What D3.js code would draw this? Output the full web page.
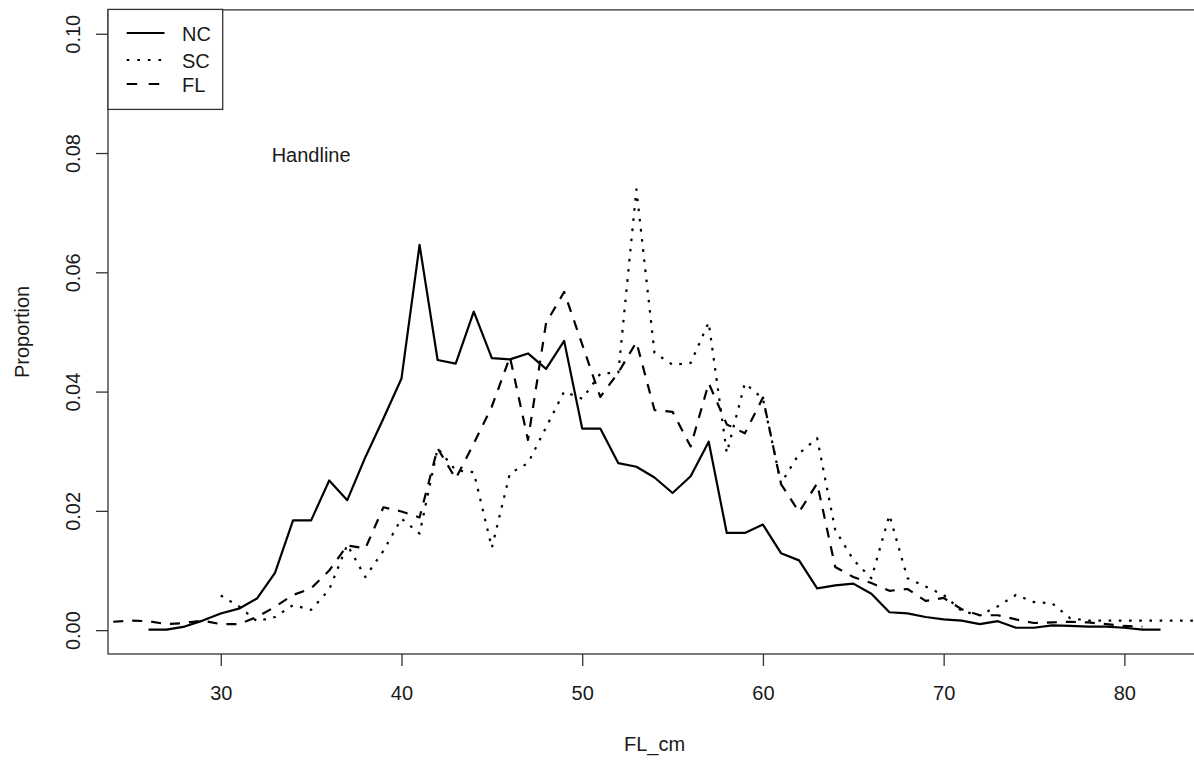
<!DOCTYPE html>
<html>
<head>
<meta charset="utf-8">
<script src="https://cdn.jsdelivr.net/npm/d3@7"></script>
<style>
  html, body { margin: 0; padding: 0; background: #fff; }
  svg { display: block; }
  text { font-family: "Liberation Sans", Arial, sans-serif; fill: #1a1a1a; }
</style>
</head>
<body>
<svg id="chart" width="1194" height="760"></svg>
<script>
// Fork length bins (cm)
const fl_cm = d3.range(23, 87);

// Proportions by bin (null = no data)
const NC = [
  null, null, null,                                   // 23-25
  0.0001, 0.0001, 0.0006, 0.0016,                     // 26-29
  0.0028, 0.0036, 0.0053, 0.0096, 0.0184, 0.0184, 0.0251, 0.0218, 0.0290, 0.0355, // 30-39
  0.0422, 0.0646, 0.0453, 0.0447, 0.0534, 0.0456, 0.0454, 0.0464, 0.0438, 0.0485, // 40-49
  0.0338, 0.0338, 0.0280, 0.0274, 0.0256, 0.0230, 0.0258, 0.0316, 0.0163, 0.0163, // 50-59
  0.0177, 0.0129, 0.0117, 0.0070, 0.0075, 0.0078, 0.0061, 0.0030, 0.0028, 0.0022, // 60-69
  0.0018, 0.0016, 0.0010, 0.0015, 0.0004, 0.0004, 0.0008, 0.0007, 0.0006, 0.0006, // 70-79
  0.0004, 0.0001, 0.0001,                             // 80-82
  null, null, null, null                              // 83-86
];
const SC = [
  null, null, null, null, null, null, null,           // 23-29
  0.0058, 0.0040, 0.0015, 0.0022, 0.0042, 0.0034, 0.0068, 0.0143, 0.0089, 0.0133, // 30-39
  0.0187, 0.0162, 0.0305, 0.0268, 0.0265, 0.0138, 0.0263, 0.0280, 0.0340, 0.0400, // 40-49
  0.0388, 0.0430, 0.0432, 0.0739, 0.0465, 0.0445, 0.0448, 0.0516, 0.0297, 0.0414, // 50-59
  0.0388, 0.0246, 0.0296, 0.0322, 0.0168, 0.0118, 0.0087, 0.0193, 0.0087, 0.0073, // 60-69
  0.0059, 0.0032, 0.0025, 0.0040, 0.0059, 0.0047, 0.0045, 0.0020, 0.0016, 0.0016, // 70-79
  0.0016, 0.0016, 0.0016, 0.0016, 0.0016, 0.0016, 0.0016 // 80-86
];
const FL = [
  0.0014, 0.0014, 0.0016,                             // 23-25
  0.0015, 0.0010, 0.0012, 0.0016,                     // 26-29
  0.0010, 0.0010, 0.0022, 0.0039, 0.0059, 0.0070, 0.0100, 0.0142, 0.0137, 0.0206, // 30-39
  0.0199, 0.0189, 0.0305, 0.0254, 0.0313, 0.0375, 0.0458, 0.0319, 0.0515, 0.0567, // 40-49
  0.0479, 0.0391, 0.0432, 0.0483, 0.0369, 0.0366, 0.0308, 0.0414, 0.0345, 0.0330, // 50-59
  0.0390, 0.0245, 0.0198, 0.0246, 0.0106, 0.0089, 0.0079, 0.0066, 0.0069, 0.0049, // 60-69
  0.0054, 0.0035, 0.0025, 0.0025, 0.0018, 0.0012, 0.0013, 0.0014, 0.0013, 0.0010, // 70-79
  0.0007, 0.0006,                                     // 80-81
  null, null, null, null, null                        // 82-86
];

const seriesNames = ["NC", "SC", "FL"];
const xTicks = [30, 40, 50, 60, 70, 80];
const yTicks = [0.00, 0.02, 0.04, 0.06, 0.08, 0.10];
const yLimits = [0, 0.10];
const xLabel = "FL_cm";
const yLabel = "Proportion";
const panelLabel = "Handline";

(function () {
const svg = d3.select("#chart");

// Plot region (R-style 4% axis expansion around the NC range / ylim)
const ncX = fl_cm.filter((d, i) => NC[i] !== null);
const xr = d3.extent(ncX);
const xpad = (xr[1] - xr[0]) * 0.04;
const ypad = (yLimits[1] - yLimits[0]) * 0.04;

const pL = 108, pR = 1201, pT = 9.9, pB = 654;
const x = d3.scaleLinear().domain([xr[0] - xpad, xr[1] + xpad]).range([pL, pR]);
const y = d3.scaleLinear().domain([yLimits[0] - ypad, yLimits[1] + ypad]).range([pB, pT]);

svg.append("clipPath").attr("id", "plotclip")
  .append("rect").attr("x", pL).attr("y", pT).attr("width", pR - pL).attr("height", pB - pT);

const styles = {
  NC: { dash: null },
  SC: { dash: "2.6,7.6" },
  FL: { dash: "10,9" }
};
const dataBy = { NC, SC, FL };

const line = d3.line()
  .defined(d => d[1] !== null)
  .x(d => x(d[0]))
  .y(d => y(d[1]));

const g = svg.append("g").attr("clip-path", "url(#plotclip)");
seriesNames.forEach(name => {
  const pts = fl_cm.map((v, i) => [v, dataBy[name][i]]);
  g.append("path")
    .attr("d", line(pts))
    .attr("fill", "none")
    .attr("stroke", "#000")
    .attr("stroke-width", 2.2)
    .attr("stroke-linejoin", "round")
    .attr("stroke-dasharray", styles[name].dash);
});

// Box
svg.append("rect")
  .attr("x", pL).attr("y", pT)
  .attr("width", pR - pL).attr("height", pB - pT)
  .attr("fill", "none").attr("stroke", "#333").attr("stroke-width", 1.3);

// X axis
const xAxis = svg.append("g").attr("transform", `translate(0,${pB})`)
  .call(d3.axisBottom(x).tickValues(xTicks).tickSize(12).tickFormat(d3.format("d")));
xAxis.select(".domain").remove();
xAxis.selectAll(".tick line").attr("stroke", "#333").attr("stroke-width", 1.3);
xAxis.selectAll(".tick text")
  .attr("y", 46).attr("dy", 0)
  .style("font-size", "20px").style("font-family", "'Liberation Sans', Arial, sans-serif")
  .attr("fill", "#1a1a1a");

// Y axis
const yAxis = svg.append("g").attr("transform", `translate(${pL},0)`)
  .call(d3.axisLeft(y).tickValues(yTicks).tickSize(12).tickFormat(d3.format(".2f")));
yAxis.select(".domain").remove();
yAxis.selectAll(".tick line").attr("stroke", "#333").attr("stroke-width", 1.3);
yAxis.selectAll(".tick text")
  .attr("x", 0).attr("y", 0).attr("dy", 0)
  .attr("transform", "translate(-28,0) rotate(-90)")
  .attr("text-anchor", "middle")
  .style("font-size", "20px").style("font-family", "'Liberation Sans', Arial, sans-serif")
  .attr("fill", "#1a1a1a");

// Axis titles
svg.append("text")
  .attr("x", (pL + pR) / 2).attr("y", 751)
  .attr("text-anchor", "middle").style("font-size", "20px")
  .text(xLabel);
svg.append("text")
  .attr("transform", `translate(29,${(pT + pB) / 2}) rotate(-90)`)
  .attr("text-anchor", "middle").style("font-size", "20px")
  .text(yLabel);

// Panel label
svg.append("text")
  .attr("x", x(35)).attr("y", y(0.08) + 9)
  .attr("text-anchor", "middle").style("font-size", "20px")
  .text(panelLabel);

// Legend
const lg = svg.append("g");
lg.append("rect")
  .attr("x", pL).attr("y", pT - 0.5).attr("width", 114.7).attr("height", 100)
  .attr("fill", "#fff").attr("stroke", "#333").attr("stroke-width", 1.3);
const legendY = [33, 60, 84];
seriesNames.forEach((name, i) => {
  lg.append("line")
    .attr("x1", 126.7).attr("x2", 164.5)
    .attr("y1", legendY[i]).attr("y2", legendY[i])
    .attr("stroke", "#000").attr("stroke-width", 2.2)
    .attr("stroke-dasharray", name === "SC" ? "2.6,8" : (name === "FL" ? "10.5,11.5" : null));
  lg.append("text")
    .attr("x", 182).attr("y", legendY[i] + 7.5)
    .style("font-size", "20px")
    .text(name);
});
})();
</script>
</body>
</html>
